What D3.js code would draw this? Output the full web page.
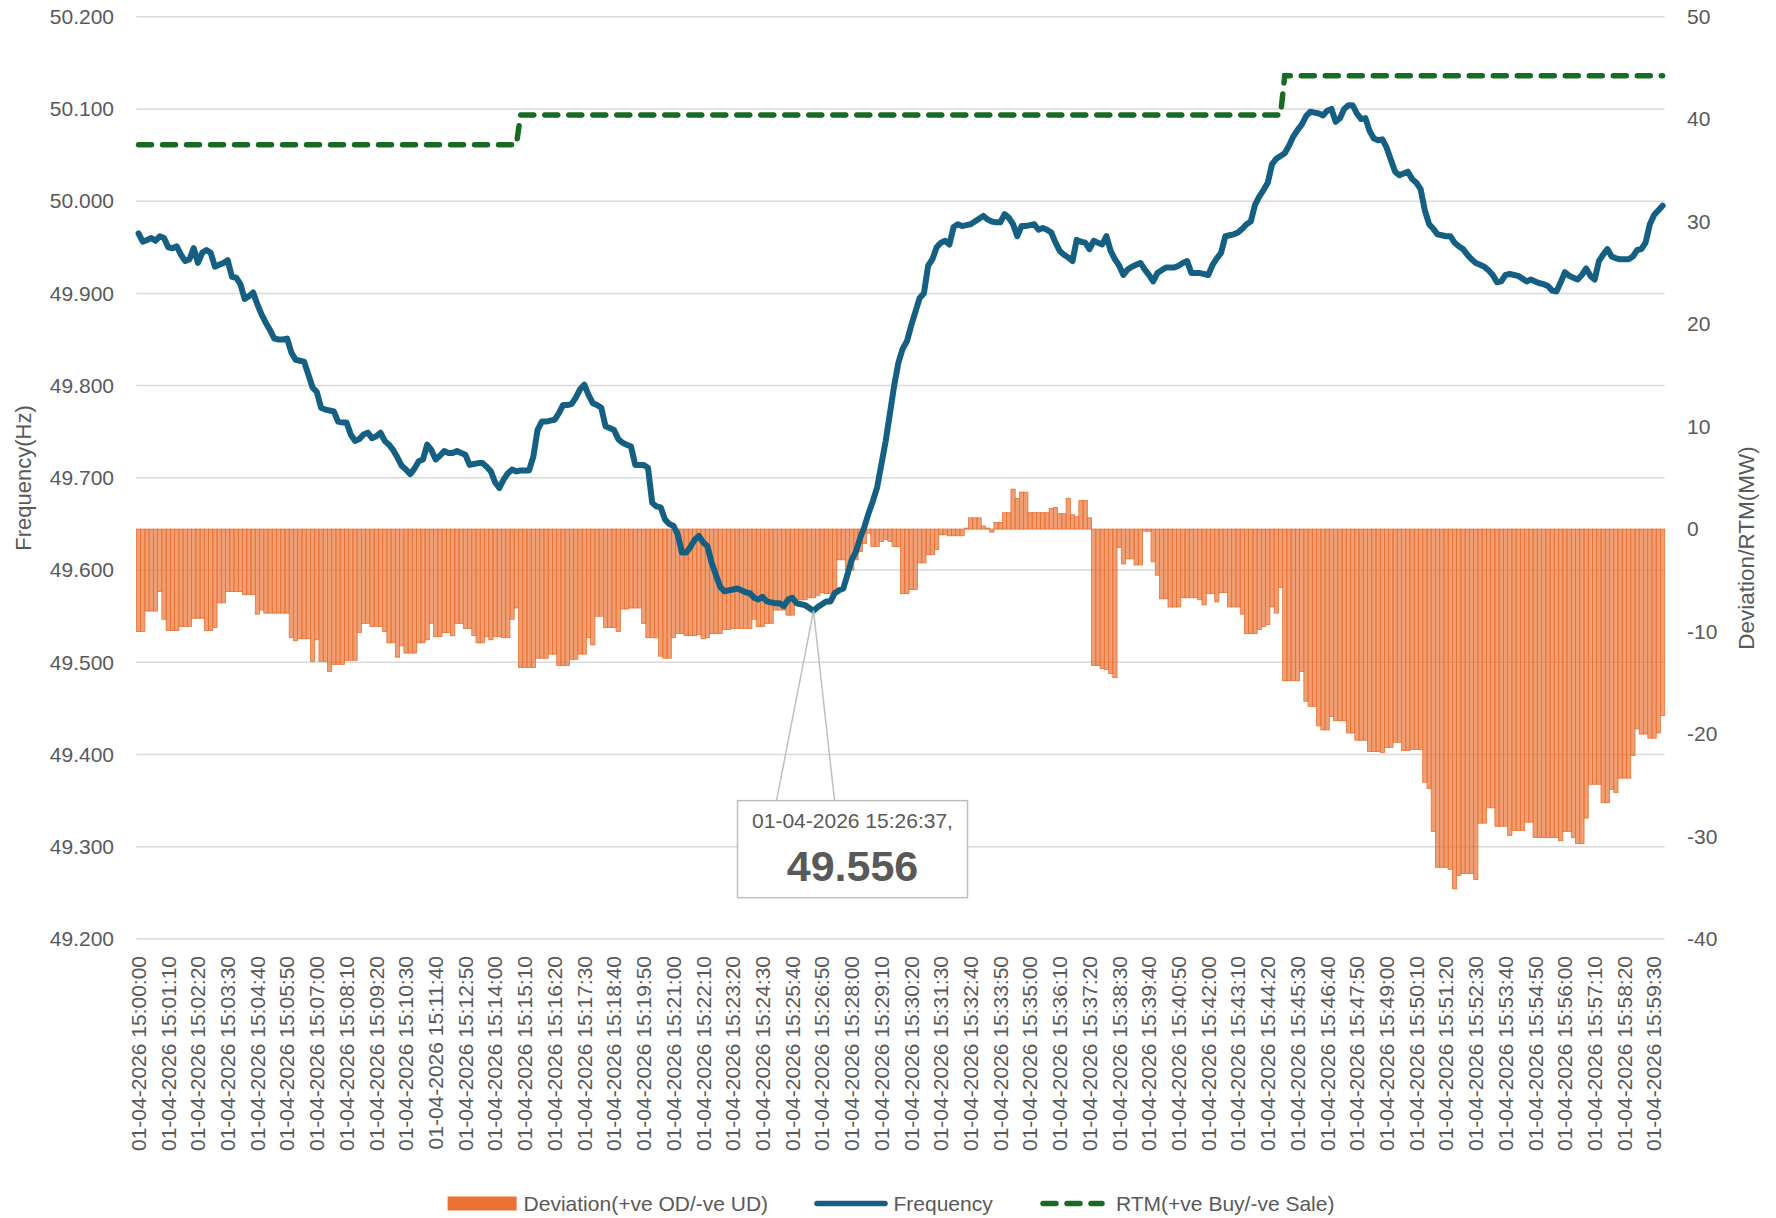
<!DOCTYPE html>
<html>
<head>
<meta charset="utf-8">
<script src="https://cdn.jsdelivr.net/npm/d3@7"></script>
<style>
  body { margin: 0; background: #fff; }
  svg { display: block; font-family: "Liberation Sans", Arial, sans-serif; }
</style>
</head>
<body>
<svg></svg>
<script>
const width = 1776
const height = 1218

// samples every 10 s, 15:00:00 .. 15:59:50
const startTime = '01-04-2026 15:00:00'
const stepSeconds = 10
const sampleCount = 360

const tickLabels = [
  '01-04-2026 15:00:00', '01-04-2026 15:01:10', '01-04-2026 15:02:20', '01-04-2026 15:03:30',
  '01-04-2026 15:04:40', '01-04-2026 15:05:50', '01-04-2026 15:07:00', '01-04-2026 15:08:10',
  '01-04-2026 15:09:20', '01-04-2026 15:10:30', '01-04-2026 15:11:40', '01-04-2026 15:12:50',
  '01-04-2026 15:14:00', '01-04-2026 15:15:10', '01-04-2026 15:16:20', '01-04-2026 15:17:30',
  '01-04-2026 15:18:40', '01-04-2026 15:19:50', '01-04-2026 15:21:00', '01-04-2026 15:22:10',
  '01-04-2026 15:23:20', '01-04-2026 15:24:30', '01-04-2026 15:25:40', '01-04-2026 15:26:50',
  '01-04-2026 15:28:00', '01-04-2026 15:29:10', '01-04-2026 15:30:20', '01-04-2026 15:31:30',
  '01-04-2026 15:32:40', '01-04-2026 15:33:50', '01-04-2026 15:35:00', '01-04-2026 15:36:10',
  '01-04-2026 15:37:20', '01-04-2026 15:38:30', '01-04-2026 15:39:40', '01-04-2026 15:40:50',
  '01-04-2026 15:42:00', '01-04-2026 15:43:10', '01-04-2026 15:44:20', '01-04-2026 15:45:30',
  '01-04-2026 15:46:40', '01-04-2026 15:47:50', '01-04-2026 15:49:00', '01-04-2026 15:50:10',
  '01-04-2026 15:51:20', '01-04-2026 15:52:30', '01-04-2026 15:53:40', '01-04-2026 15:54:50',
  '01-04-2026 15:56:00', '01-04-2026 15:57:10', '01-04-2026 15:58:20', '01-04-2026 15:59:30'
]

const freqTicks = [49.2, 49.3, 49.4, 49.5, 49.6, 49.7, 49.8, 49.9, 50.0, 50.1, 50.2]
const mwTicks = [-40, -30, -20, -10, 0, 10, 20, 30, 40, 50]

// Hz
const frequency = [
  49.965, 49.956, 49.958, 49.960, 49.957, 49.962, 49.960, 49.950, 49.949, 49.951,
  49.942, 49.935, 49.937, 49.949, 49.933, 49.944, 49.947, 49.944, 49.929, 49.931,
  49.933, 49.936, 49.918, 49.917, 49.910, 49.894, 49.897, 49.901, 49.888, 49.877,
  49.868, 49.860, 49.851, 49.850, 49.850, 49.851, 49.836, 49.828, 49.827, 49.826,
  49.812, 49.798, 49.793, 49.776, 49.774, 49.773, 49.772, 49.761, 49.760, 49.760,
  49.747, 49.740, 49.742, 49.747, 49.749, 49.743, 49.745, 49.749, 49.740, 49.736,
  49.730, 49.722, 49.713, 49.709, 49.704, 49.710, 49.718, 49.720, 49.736, 49.730,
  49.720, 49.724, 49.729, 49.727, 49.727, 49.729, 49.727, 49.725, 49.714, 49.715,
  49.716, 49.716, 49.712, 49.707, 49.695, 49.689, 49.698, 49.705, 49.709, 49.707,
  49.708, 49.708, 49.708, 49.723, 49.752, 49.761, 49.761, 49.762, 49.763, 49.770,
  49.779, 49.779, 49.780, 49.787, 49.796, 49.801, 49.790, 49.781, 49.779, 49.776,
  49.756, 49.754, 49.752, 49.742, 49.738, 49.736, 49.734, 49.714, 49.714, 49.714,
  49.711, 49.673, 49.669, 49.668, 49.655, 49.650, 49.648, 49.639, 49.619, 49.619,
  49.625, 49.633, 49.637, 49.630, 49.626, 49.608, 49.595, 49.582, 49.577, 49.578,
  49.579, 49.580, 49.578, 49.576, 49.575, 49.570, 49.568, 49.571, 49.566, 49.565,
  49.564, 49.564, 49.561, 49.568, 49.570, 49.564, 49.563, 49.562, 49.559, 49.556,
  49.560, 49.563, 49.566, 49.566, 49.575, 49.578, 49.580, 49.595, 49.611, 49.620,
  49.635, 49.647, 49.662, 49.675, 49.690, 49.715, 49.740, 49.770, 49.800, 49.825,
  49.840, 49.848, 49.865, 49.880, 49.895, 49.900, 49.930, 49.937, 49.950, 49.955,
  49.957, 49.953, 49.972, 49.975, 49.973, 49.974, 49.975, 49.978, 49.981, 49.984,
  49.980, 49.978, 49.977, 49.977, 49.986, 49.982, 49.975, 49.962, 49.973, 49.973,
  49.974, 49.975, 49.969, 49.971, 49.969, 49.966, 49.955, 49.946, 49.942, 49.939,
  49.935, 49.958, 49.956, 49.955, 49.948, 49.957, 49.955, 49.953, 49.962, 49.946,
  49.937, 49.930, 49.920, 49.926, 49.929, 49.931, 49.933, 49.926, 49.920, 49.913,
  49.922, 49.925, 49.928, 49.928, 49.928, 49.930, 49.933, 49.935, 49.922, 49.922,
  49.922, 49.921, 49.920, 49.931, 49.938, 49.944, 49.962, 49.963, 49.964, 49.966,
  49.970, 49.975, 49.978, 49.996, 50.005, 50.012, 50.020, 50.040, 50.046, 50.049,
  50.052, 50.060, 50.070, 50.077, 50.083, 50.092, 50.097, 50.096, 50.095, 50.093,
  50.098, 50.100, 50.086, 50.090, 50.100, 50.104, 50.104, 50.095, 50.089, 50.090,
  50.076, 50.068, 50.066, 50.067, 50.058, 50.045, 50.032, 50.028, 50.030, 50.032,
  50.024, 50.020, 50.013, 49.990, 49.975, 49.970, 49.964, 49.963, 49.962, 49.962,
  49.955, 49.951, 49.948, 49.942, 49.937, 49.933, 49.931, 49.929, 49.925, 49.920,
  49.912, 49.913, 49.920, 49.921, 49.920, 49.919, 49.916, 49.913, 49.915, 49.913,
  49.911, 49.910, 49.908, 49.903, 49.902, 49.912, 49.923, 49.919, 49.917, 49.915,
  49.920, 49.927, 49.919, 49.915, 49.935, 49.942, 49.948, 49.940, 49.938, 49.937,
  49.937, 49.937, 49.940, 49.947, 49.948, 49.955, 49.975, 49.985, 49.990, 49.995
]

// MW
const deviation = [
  -10.0, -10.0, -8.0, -8.0, -8.0, -6.1, -8.8, -9.9, -9.9, -9.9,
  -9.5, -9.5, -9.5, -8.7, -8.7, -8.7, -9.9, -9.9, -9.6, -7.2,
  -7.2, -6.1, -6.1, -6.1, -6.1, -6.4, -6.4, -6.4, -8.3, -7.9,
  -8.2, -8.2, -8.2, -8.2, -8.2, -8.2, -10.6, -10.9, -10.7, -10.7,
  -10.7, -12.9, -10.8, -12.9, -12.9, -13.9, -13.2, -13.2, -13.2, -12.8,
  -12.8, -12.8, -10.1, -9.2, -9.2, -9.5, -9.5, -9.5, -10.0, -11.1,
  -11.1, -12.5, -11.4, -12.1, -12.1, -12.1, -11.1, -11.1, -10.8, -9.2,
  -10.5, -10.5, -10.1, -10.1, -10.4, -9.2, -9.2, -9.7, -9.7, -10.4,
  -11.1, -11.1, -10.5, -10.8, -10.5, -10.5, -10.6, -10.6, -8.8, -7.7,
  -13.5, -13.5, -13.5, -13.5, -12.6, -12.6, -12.6, -12.2, -12.2, -13.3,
  -13.3, -13.3, -12.7, -12.7, -12.2, -12.2, -10.6, -11.3, -8.5, -8.5,
  -9.6, -9.6, -9.6, -10.0, -7.8, -7.8, -7.7, -7.7, -7.7, -9.2,
  -10.6, -10.6, -10.6, -12.4, -12.6, -12.6, -10.6, -10.2, -10.2, -10.4,
  -10.4, -10.4, -10.3, -10.7, -10.6, -10.2, -10.2, -10.2, -9.8, -9.8,
  -9.7, -9.7, -9.7, -9.7, -9.7, -8.8, -9.5, -9.5, -9.2, -9.2,
  -7.9, -7.9, -7.9, -8.4, -8.4, -6.9, -6.9, -6.9, -6.7, -6.7,
  -6.5, -6.2, -6.3, -6.3, -6.0, -3.0, -3.0, -4.0, -4.0, -3.0,
  -2.2, -1.4, -0.4, -1.7, -1.7, -1.2, -1.0, -1.2, -1.7, -1.7,
  -6.3, -6.3, -5.9, -5.9, -3.3, -3.3, -2.5, -2.5, -2.0, -0.55,
  -0.55, -0.65, -0.65, -0.65, -0.65, 0.1, 1.1, 1.1, 1.1, 0.3,
  0.1, -0.3, 0.65, 0.65, 1.6, 1.6, 3.9, 3.0, 3.6, 3.6,
  1.6, 1.6, 1.6, 1.6, 1.6, 2.0, 2.1, 1.5, 1.5, 3.0,
  1.4, 1.2, 2.8, 2.8, 1.1, -13.3, -13.3, -13.6, -13.7, -14.1,
  -14.5, -1.8, -3.4, -2.9, -2.9, -3.5, -3.5, -0.2, -0.2, -3.2,
  -4.5, -6.8, -6.8, -7.6, -7.6, -7.6, -6.7, -6.7, -6.7, -6.7,
  -6.9, -7.4, -6.3, -6.3, -7.1, -6.2, -6.2, -7.6, -7.6, -7.6,
  -8.3, -10.2, -10.2, -10.2, -9.8, -9.5, -9.3, -7.6, -8.2, -5.7,
  -14.8, -14.8, -14.8, -14.8, -13.9, -16.8, -17.3, -17.3, -19.2, -19.6,
  -19.6, -18.3, -18.7, -18.7, -18.7, -19.9, -19.9, -20.6, -20.6, -20.6,
  -21.7, -21.7, -21.7, -21.8, -21.3, -21.3, -20.8, -20.8, -21.6, -21.6,
  -21.5, -21.5, -21.5, -24.7, -25.3, -29.5, -33.0, -33.0, -33.0, -33.2,
  -35.1, -33.8, -33.6, -33.6, -33.6, -34.2, -28.7, -28.7, -27.2, -27.2,
  -29.0, -29.0, -29.0, -29.9, -29.4, -29.4, -29.4, -28.6, -28.6, -30.1,
  -30.1, -30.1, -30.1, -30.1, -30.1, -30.4, -29.5, -29.5, -30.1, -30.7,
  -30.7, -28.2, -24.9, -24.9, -24.9, -26.7, -26.7, -25.4, -25.7, -24.3,
  -24.3, -24.3, -22.1, -19.5, -20.0, -20.0, -20.4, -20.4, -19.9, -18.2
]

// RTM schedule per 15-minute block (MW)
const rtmBlocks = ['15:00', '15:15', '15:30', '15:45']
const rtmValues = [37.5, 40.4, 40.4, 44.25]

const callout = {time: '01-04-2026 15:26:37', value: 49.556}

const legendItems = [
  {label: 'Deviation(+ve OD/-ve UD)', kind: 'bar'},
  {label: 'Frequency', kind: 'line'},
  {label: 'RTM(+ve Buy/-ve Sale)', kind: 'dash'}
]

const orange = '#E97132'
const blue = '#156082'
const green = '#196B24'
const textGrey = '#595959'

const plotLeft = 136.4
const plotRight = 1664.7
const plotTop = 16.7
const plotBottom = 939

const svg = d3.select('svg')
  .attr('width', width)
  .attr('height', height)

const parse = d3.timeParse('%d-%m-%Y %H:%M:%S')
const fmt = d3.timeFormat('%d-%m-%Y %H:%M:%S')
const t0 = parse(startTime)
const categories = d3.range(sampleCount).map(i => fmt(d3.timeSecond.offset(t0, i * stepSeconds)))

const rtm = categories.map(c => {
  const hm = c.slice(11, 16)
  let k = 0
  rtmBlocks.forEach((b, j) => { if (hm >= b) k = j })
  return rtmValues[k]
})

const x = d3.scaleBand().domain(categories).range([plotLeft, plotRight]).padding(0)
const yFreq = d3.scaleLinear().domain([49.2, 50.2]).range([plotBottom, plotTop])
const yMw = d3.scaleLinear().domain([-40, 50]).range([plotBottom, plotTop])
const cx = i => x(categories[i]) + x.bandwidth() / 2

// gridlines
svg.append('g')
  .selectAll('line')
  .data(freqTicks)
  .join('line')
  .attr('x1', plotLeft)
  .attr('x2', plotRight)
  .attr('y1', d => yFreq(d))
  .attr('y2', d => yFreq(d))
  .attr('stroke', '#d9d9d9')
  .attr('stroke-width', 1.5)

// deviation bars
svg.append('g')
  .selectAll('rect')
  .data(deviation)
  .join('rect')
  .attr('x', (d, i) => x(categories[i]))
  .attr('width', x.bandwidth())
  .attr('y', d => yMw(Math.max(0, d)))
  .attr('height', d => Math.abs(yMw(d) - yMw(0)))
  .attr('fill', orange)
  .attr('fill-opacity', 0.68)
  .attr('stroke', orange)
  .attr('stroke-width', 0.8)

// RTM
svg.append('path')
  .datum(rtm)
  .attr('d', d3.line().x((d, i) => cx(i)).y(d => yMw(d)))
  .attr('fill', 'none')
  .attr('stroke', green)
  .attr('stroke-width', 5.5)
  .attr('stroke-linecap', 'round')
  .attr('stroke-dasharray', '13 11')

// frequency
svg.append('path')
  .datum(frequency)
  .attr('d', d3.line().x((d, i) => cx(i)).y(d => yFreq(d)))
  .attr('fill', 'none')
  .attr('stroke', blue)
  .attr('stroke-width', 6)
  .attr('stroke-linejoin', 'round')
  .attr('stroke-linecap', 'round')

// callout on the minimum
const minIdx = d3.minIndex(frequency)
const px = cx(minIdx)
const py = yFreq(frequency[minIdx])
const boxL = px - 76, boxT = py + 190, boxW = 230, boxH = 97
const co = svg.append('g')
co.append('path')
  .attr('d', `M${px - 37},${boxT} L${px},${py} L${px + 21},${boxT}`)
  .attr('fill', 'none')
  .attr('stroke', '#bfbfbf')
  .attr('stroke-width', 1.5)
co.append('rect')
  .attr('x', boxL).attr('y', boxT)
  .attr('width', boxW).attr('height', boxH)
  .attr('fill', '#fff')
  .attr('stroke', '#bfbfbf')
  .attr('stroke-width', 1.5)
co.append('text')
  .attr('x', boxL + boxW / 2).attr('y', boxT + 27)
  .attr('text-anchor', 'middle')
  .attr('font-size', 21)
  .attr('fill', textGrey)
  .text(callout.time + ',')
co.append('text')
  .attr('x', boxL + boxW / 2).attr('y', boxT + 80)
  .attr('text-anchor', 'middle')
  .attr('font-size', 43)
  .attr('font-weight', 'bold')
  .attr('fill', textGrey)
  .text(d3.format('.3f')(callout.value))

// axes
const axisL = svg.append('g')
  .attr('transform', `translate(${plotLeft},0)`)
  .call(d3.axisLeft(yFreq).tickValues(freqTicks).tickFormat(d3.format('.3f')).tickSize(0).tickPadding(22.4))
const axisR = svg.append('g')
  .attr('transform', `translate(${plotRight},0)`)
  .call(d3.axisRight(yMw).tickValues(mwTicks).tickFormat(d => String(d)).tickSize(0).tickPadding(22.3))
const axisB = svg.append('g')
  .attr('transform', `translate(0,${plotBottom})`)
  .call(d3.axisBottom(x).tickValues(tickLabels).tickSize(0))

;[axisL, axisR, axisB].forEach(a => {
  a.attr('font-size', null).attr('font-family', null)
  a.select('.domain').remove()
  a.selectAll('text').attr('font-size', 21).attr('fill', textGrey)
})
axisB.selectAll('text')
  .attr('transform', 'rotate(-90)')
  .attr('text-anchor', 'end')
  .attr('x', -17)
  .attr('y', 0)
  .attr('dy', '0.35em')

svg.append('text')
  .attr('transform', 'translate(23,478) rotate(-90)')
  .attr('text-anchor', 'middle')
  .attr('dy', '0.35em')
  .attr('font-size', 22)
  .attr('fill', textGrey)
  .text('Frequency(Hz)')

svg.append('text')
  .attr('transform', 'translate(1746,548) rotate(-90)')
  .attr('text-anchor', 'middle')
  .attr('dy', '0.35em')
  .attr('font-size', 22.5)
  .attr('fill', textGrey)
  .text('Deviation/RTM(MW)')

// legend
const legendX = [447.6, 814, 1040]
const legendY = 1203.5
const lg = svg.append('g')
legendItems.forEach((item, k) => {
  const g = lg.append('g').attr('transform', `translate(${legendX[k]},${legendY})`)
  let tx
  if (item.kind === 'bar') {
    g.append('rect').attr('x', 0).attr('y', -7).attr('width', 69).attr('height', 14).attr('fill', orange)
    tx = 76
  } else if (item.kind === 'line') {
    g.append('line').attr('x1', 3).attr('x2', 71).attr('stroke', blue)
      .attr('stroke-width', 5.5).attr('stroke-linecap', 'round')
    tx = 79.5
  } else {
    g.append('line').attr('x1', 3).attr('x2', 62).attr('stroke', green)
      .attr('stroke-width', 5.5).attr('stroke-linecap', 'round').attr('stroke-dasharray', '13 11')
    tx = 76
  }
  g.append('text').attr('x', tx).attr('dy', '0.35em')
    .attr('font-size', 21).attr('fill', textGrey)
    .text(item.label)
})
</script>
</body>
</html>
